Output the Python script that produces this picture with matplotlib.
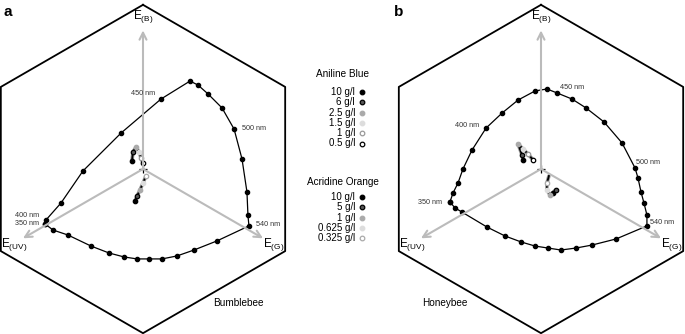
import numpy as np
import matplotlib
matplotlib.use("Agg")
import matplotlib.pyplot as plt

plt.rcParams['font.family'] = ['Liberation Sans', 'DejaVu Sans']

# spectral loci in hexagon units (R = 1), closed through the bottom mixing line
bumble_x = [-0.594, -0.588, -0.497, -0.364, -0.133, 0.109, 0.285, 0.333, 0.394, 0.479,
            0.552, 0.600, 0.630, 0.636, 0.642, 0.448, 0.309, 0.206, 0.115, 0.036,
            -0.036, -0.115, -0.206, -0.315, -0.455, -0.545, -0.594]
bumble_y = [-0.333, -0.309, -0.206, -0.012, 0.218, 0.424, 0.533, 0.509, 0.455, 0.370,
            0.242, 0.061, -0.139, -0.279, -0.345, -0.436, -0.491, -0.527, -0.545, -0.545,
            -0.545, -0.533, -0.509, -0.467, -0.400, -0.370, -0.333]
honey_x = [-0.552, -0.533, -0.503, -0.473, -0.418, -0.333, -0.236, -0.139, -0.036, 0.036,
           0.097, 0.188, 0.273, 0.382, 0.491, 0.570, 0.588, 0.606, 0.624, 0.642, 0.642,
           0.455, 0.309, 0.212, 0.121, 0.042, -0.036, -0.121, -0.218, -0.327, -0.479,
           -0.521, -0.552]
honey_y = [-0.200, -0.145, -0.085, 0.000, 0.115, 0.248, 0.339, 0.418, 0.473, 0.485,
           0.461, 0.424, 0.370, 0.285, 0.158, 0.006, -0.055, -0.139, -0.206, -0.279, -0.345,
           -0.424, -0.461, -0.479, -0.491, -0.479, -0.467, -0.442, -0.406, -0.352, -0.261,
           -0.236, -0.200]

# wavelength labels
bumble_nm = [("450 nm", 0.0, 0.455), ("500 nm", 0.673, 0.248), ("400 nm", -0.703, -0.279),
             ("350 nm", -0.703, -0.333), ("540 nm", 0.758, -0.339)]
honey_nm = [("450 nm", 0.188, 0.491), ("400 nm", -0.448, 0.261), ("500 nm", 0.648, 0.042),
            ("350 nm", -0.673, -0.206), ("540 nm", 0.733, -0.327)]

# dye loci (concentration series)
aniline_conc = ["10 g/l", "6 g/l", "2.5 g/l", "1.5 g/l", "1 g/l", "0.5 g/l"]
acridine_conc = ["10 g/l", "5 g/l", "1 g/l", "0.625 g/l", "0.325 g/l"]
aniline_face = ["black", "#555555", "#aaaaaa", "#dddddd", "white", "white"]
aniline_edge = ["black", "black", "#aaaaaa", "#dddddd", "#999999", "black"]
acridine_face = ["black", "#555555", "#aaaaaa", "#dddddd", "white"]
acridine_edge = ["black", "black", "#aaaaaa", "#dddddd", "#aaaaaa"]

bumble_ab_x = [-0.067, -0.061, -0.042, -0.024, -0.012, 0.0]
bumble_ab_y = [0.048, 0.103, 0.133, 0.103, 0.067, 0.036]
bumble_ao_x = [-0.048, -0.036, -0.018, 0.0, 0.018]
bumble_ao_y = [-0.194, -0.164, -0.127, -0.085, -0.042]
honey_ab_x = [-0.109, -0.115, -0.139, -0.109, -0.079, -0.048]
honey_ab_y = [0.055, 0.085, 0.152, 0.121, 0.091, 0.055]
honey_ao_x = [0.073, 0.091, 0.055, 0.036, 0.036, 0.048]
honey_ao_y = [-0.145, -0.127, -0.158, -0.127, -0.085, -0.042]

fig = plt.figure(figsize=(6.85, 3.34), dpi=100)
W, H = 685, 334


def panel(left_px, cx_px, locus_x, locus_y, nm_labels, name, name_xy, ab, ao, letter, letter_px):
    ax = fig.add_axes([left_px / W, 0, 290 / W, 1])
    R = 165.0
    ax.set_xlim((left_px - cx_px) / R, (left_px + 290 - cx_px) / R)
    ax.set_ylim((169 - 334) / R, 169 / R)
    ax.axis('off')

    ang = np.deg2rad([90, 30, -30, -90, -150, 150, 90])
    ax.plot(0.995 * np.cos(ang), 0.995 * np.sin(ang), color='black', lw=1.3, clip_on=False)

    for a in [90, 210, 330]:
        t = np.deg2rad(a)
        ax.annotate('', xy=(0.84 * np.cos(t), 0.84 * np.sin(t)), xytext=(0, 0),
                    arrowprops=dict(arrowstyle='->,head_length=0.5,head_width=0.25',
                                    color='#bbbbbb', lw=1.5, shrinkA=0, shrinkB=0))
    ax.plot([0], [0], marker='+', color='black', ms=6, mew=0.9)

    ax.text(0, 0.925, r'E$_{\mathregular{(B)}}$', fontsize=8.5, ha='center', va='center')
    ax.text(-0.78, -0.455, r'E$_{\mathregular{(UV)}}$', fontsize=8.5, ha='center', va='center')
    ax.text(0.79, -0.455, r'E$_{\mathregular{(G)}}$', fontsize=8.5, ha='center', va='center')

    ax.plot(locus_x, locus_y, color='black', lw=0.9, marker='o', ms=3)
    for txt, x, y in nm_labels:
        ax.text(x, y, txt, fontsize=5.2, color='#333333', ha='center', va='center')

    for (xs, ys), faces, edges in [(ab, aniline_face, aniline_edge), (ao, acridine_face, acridine_edge)]:
        ax.plot(xs, ys, color='#999999', lw=2.6, solid_capstyle='round')
        ax.plot(xs, ys, color='black', lw=1.3)
        for x, y, f, e in zip(xs, ys, faces, edges):
            ax.plot(x, y, marker='o', ms=3.2, mfc=f, mec=e, mew=0.9, ls='none')

    ax.text(name_xy[0], name_xy[1], name, fontsize=7.2, ha='center', va='center')
    fig.text(letter_px / W, 1 - 12 / H, letter, fontsize=11, fontweight='bold',
             ha='left', va='center')


panel(0, 143, bumble_x, bumble_y, bumble_nm, "Bumblebee", (0.576, -0.812),
      (bumble_ab_x, bumble_ab_y), (bumble_ao_x, bumble_ao_y), "a", 4)
panel(395, 541, honey_x, honey_y, honey_nm, "Honeybee", (-0.582, -0.812),
      (honey_ab_x, honey_ab_y), (honey_ao_x, honey_ao_y), "b", 394)

# legend in the middle
lg = fig.add_axes([290 / W, 0, 105 / W, 1])
lg.set_xlim(290, 395)
lg.set_ylim(334, 0)
lg.axis('off')
groups = [("Aniline Blue", 74, 92, aniline_conc, aniline_face, aniline_edge),
          ("Acridine Orange", 182, 197, acridine_conc, acridine_face, acridine_edge)]
for title, ty, y0, concs, faces, edges in groups:
    lg.text(343, ty, title, fontsize=7.2, ha='center', va='center')
    for i, (c, f, e) in enumerate(zip(concs, faces, edges)):
        y = y0 + i * 10.3
        lg.text(355, y, c, fontsize=7, ha='right', va='center')
        lg.plot(362, y, marker='o', ms=3.3, mfc=f, mec=e, mew=0.9, ls='none')

fig.savefig("out.png", dpi=100)
